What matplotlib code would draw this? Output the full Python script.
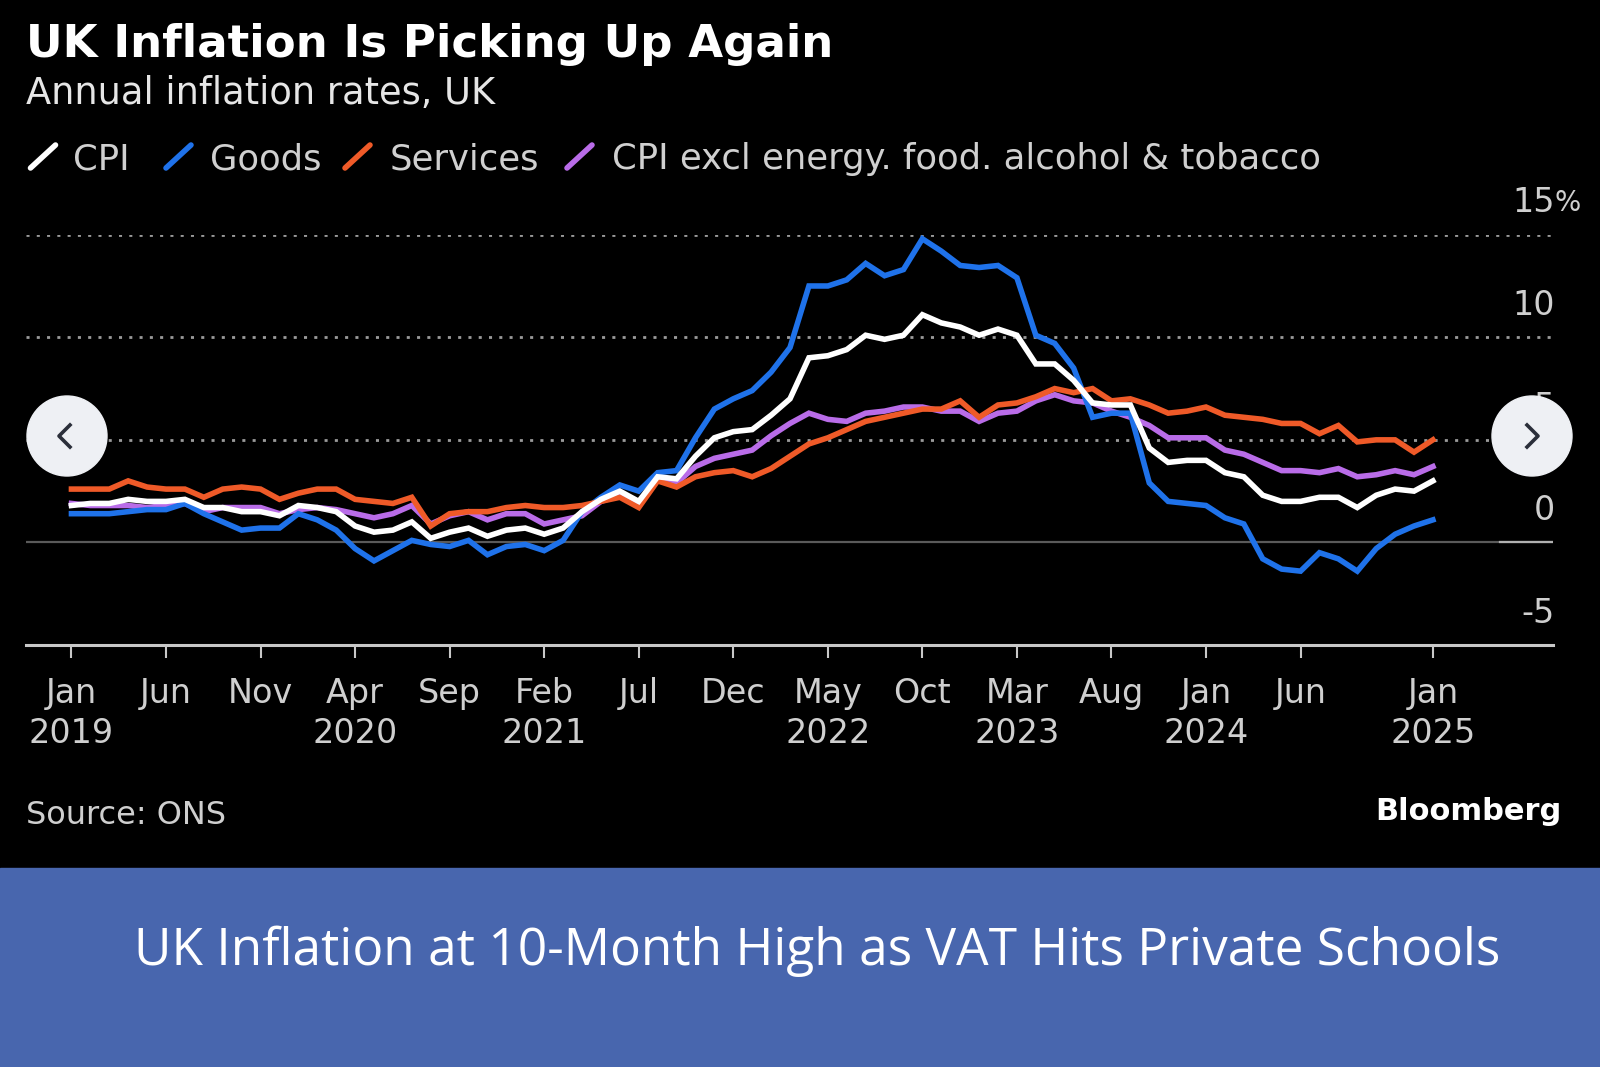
import matplotlib
matplotlib.use("Agg")
import matplotlib.pyplot as plt
from matplotlib.lines import Line2D
from matplotlib.patches import Circle, Rectangle

# monthly annual rates, Jan 2019 .. Jan 2025 (73 months)
cpi = [1.8, 1.9, 1.9, 2.1, 2.0, 2.0, 2.1, 1.7, 1.7, 1.5, 1.5, 1.3,
       1.8, 1.7, 1.5, 0.8, 0.5, 0.6, 1.0, 0.2, 0.5, 0.7, 0.3, 0.6,
       0.7, 0.4, 0.7, 1.5, 2.1, 2.5, 2.0, 3.2, 3.1, 4.2, 5.1, 5.4,
       5.5, 6.2, 7.0, 9.0, 9.1, 9.4, 10.1, 9.9, 10.1, 11.1, 10.7, 10.5,
       10.1, 10.4, 10.1, 8.7, 8.7, 7.9, 6.8, 6.7, 6.7, 4.6, 3.9, 4.0,
       4.0, 3.4, 3.2, 2.3, 2.0, 2.0, 2.2, 2.2, 1.7, 2.3, 2.6, 2.5,
       3.0]
goods = [1.4, 1.4, 1.4, 1.5, 1.6, 1.6, 1.9, 1.4, 1.0, 0.6, 0.7, 0.7,
         1.4, 1.1, 0.6, -0.3, -0.9, -0.4, 0.1, -0.1, -0.2, 0.1, -0.6, -0.2,
         -0.1, -0.4, 0.1, 1.5, 2.2, 2.8, 2.5, 3.4, 3.5, 5.1, 6.5, 7.0,
         7.4, 8.3, 9.5, 12.5, 12.5, 12.8, 13.6, 13.0, 13.3, 14.8, 14.2, 13.5,
         13.4, 13.5, 12.9, 10.1, 9.7, 8.5, 6.1, 6.3, 6.3, 2.9, 2.0, 1.9,
         1.8, 1.2, 0.9, -0.8, -1.3, -1.4, -0.5, -0.8, -1.4, -0.3, 0.4, 0.8,
         1.1]
services = [2.6, 2.6, 2.6, 3.0, 2.7, 2.6, 2.6, 2.2, 2.6, 2.7, 2.6, 2.1,
            2.4, 2.6, 2.6, 2.1, 2.0, 1.9, 2.2, 0.8, 1.4, 1.5, 1.5, 1.7,
            1.8, 1.7, 1.7, 1.8, 2.0, 2.2, 1.7, 3.0, 2.7, 3.2, 3.4, 3.5,
            3.2, 3.6, 4.2, 4.8, 5.1, 5.5, 5.9, 6.1, 6.3, 6.5, 6.5, 6.9,
            6.1, 6.7, 6.8, 7.1, 7.5, 7.3, 7.5, 6.9, 7.0, 6.7, 6.3, 6.4,
            6.6, 6.2, 6.1, 6.0, 5.8, 5.8, 5.3, 5.7, 4.9, 5.0, 5.0, 4.4,
            5.0]
core = [1.9, 1.8, 1.8, 1.8, 1.7, 1.8, 1.9, 1.5, 1.7, 1.7, 1.7, 1.4,
        1.6, 1.7, 1.6, 1.4, 1.2, 1.4, 1.8, 0.9, 1.3, 1.5, 1.1, 1.4,
        1.4, 0.9, 1.1, 1.3, 2.0, 2.3, 1.8, 3.1, 2.9, 3.7, 4.1, 4.3,
        4.5, 5.2, 5.8, 6.3, 6.0, 5.9, 6.3, 6.4, 6.6, 6.6, 6.4, 6.4,
        5.9, 6.3, 6.4, 6.9, 7.2, 6.9, 6.8, 6.4, 6.1, 5.7, 5.1, 5.1,
        5.1, 4.5, 4.3, 3.9, 3.5, 3.5, 3.4, 3.6, 3.2, 3.3, 3.5, 3.3,
        3.7]

tick_pos = [0, 5, 10, 15, 20, 25, 30, 35, 40, 45, 50, 55, 60, 65, 72]
tick_month = ["Jan", "Jun", "Nov", "Apr", "Sep", "Feb", "Jul", "Dec",
              "May", "Oct", "Mar", "Aug", "Jan", "Jun", "Jan"]
tick_year = ["2019", "", "", "2020", "", "2021", "", "",
             "2022", "", "2023", "", "2024", "", "2025"]
y_ticks = [15, 10, 5, 0, -5]

series = [("CPI excl energy. food. alcohol & tobacco", core, "#b96ce8"),
          ("Goods", goods, "#1f72ea"),
          ("Services", services, "#ef5a28"),
          ("CPI", cpi, "#ffffff")]

W, H = 1600, 1067
fig = plt.figure(figsize=(16, 10.67), dpi=100, facecolor="black")

# main chart area (pixel box converted to figure fractions)
left, right, top, bottom = 25.5, 1553, 234.7, 645
ax = fig.add_axes([left / W, (H - bottom) / H, (right - left) / W, (bottom - top) / H])
ax.set_facecolor("black")
months = list(range(len(cpi)))
for name, vals, col in series:
    ax.plot(months, vals, color=col, lw=4.0, solid_joinstyle="miter", zorder=3)

ax.set_xlim(-2.43, 78.35)
ax.set_ylim(-5, 15)
for v in [5, 10, 15]:
    ax.axhline(v, color="#9a9a9a", lw=2.0, ls=(0, (1.1, 2.6)), zorder=1)
ax.axhline(0, color="#5a5a5a", lw=1.6, zorder=1)
ax.axhline(0, xmin=0.965, color="#b0b0b0", lw=1.6, zorder=1)

for s in ["top", "right", "left"]:
    ax.spines[s].set_visible(False)
ax.spines["bottom"].set_color("#c8c8c8")
ax.spines["bottom"].set_linewidth(2.2)
ax.set_yticks([])
ax.set_xticks(tick_pos)
ax.set_xticklabels([m + "\n" + y for m, y in zip(tick_month, tick_year)],
                   color="#cfcfcf", fontsize=24, linespacing=1.27)
ax.tick_params(axis="x", length=9, width=1.5, color="#c8c8c8", pad=14)

for v in y_ticks:
    ax.annotate(str(v), xy=(1.0013, v), xycoords=("axes fraction", "data"),
                xytext=(0, 23), textcoords="offset points",
                ha="right", va="center", color="#cfcfcf", fontsize=24)
ax.annotate("%", xy=(1.0013, 15), xycoords=("axes fraction", "data"),
            xytext=(0, 23), textcoords="offset points",
            ha="left", va="center", color="#cfcfcf", fontsize=20)

# overlay in pixel coordinates for titles, legend, buttons, banner
ov = fig.add_axes([0, 0, 1, 1], zorder=5)
ov.set_xlim(0, W)
ov.set_ylim(H, 0)
ov.axis("off")
ov.patch.set_visible(False)

ov.text(26, 45, "UK Inflation Is Picking Up Again", color="white",
        fontsize=32.5, fontweight="bold", va="center")
ov.text(26, 93, "Annual inflation rates, UK", color="#e6e6e6",
        fontsize=26.5, va="center")

legend_x = [27.5, 163, 342, 564]
text_x = [73, 210, 390, 612]
for (name, vals, col), lx, tx in zip([series[3], series[1], series[2], series[0]],
                                     legend_x, text_x):
    ov.add_line(Line2D([lx + 3, lx + 28], [168, 145], color=col, lw=4,
                       solid_capstyle="round"))
    ov.text(tx, 159, name, color="#d0d0d0", fontsize=25.5, va="center")

ov.text(26, 816, "Source: ONS", color="#cfcfcf", fontsize=23, va="center")
ov.text(1561, 812, "Bloomberg", color="white", fontsize=22,
        fontweight="bold", va="center", ha="right")

# carousel buttons
for cx, pts in [(67, [(70, 425), (59, 436), (70, 447)]),
                (1532, [(1527, 425), (1538, 436), (1527, 447)])]:
    ov.add_patch(Circle((cx, 436), 40, color="#eef0f4"))
    ov.add_line(Line2D([p[0] for p in pts], [p[1] for p in pts],
                       color="#2b2f3a", lw=2.6))

ov.add_patch(Rectangle((0, 868), W, H - 868, color="#4866ae"))
ov.text(817, 951, "UK Inflation at 10-Month High as VAT Hits Private Schools",
        color="white", fontsize=37, family="Open Sans", ha="center", va="center")

fig.savefig("out.png", dpi=100, facecolor="black")
